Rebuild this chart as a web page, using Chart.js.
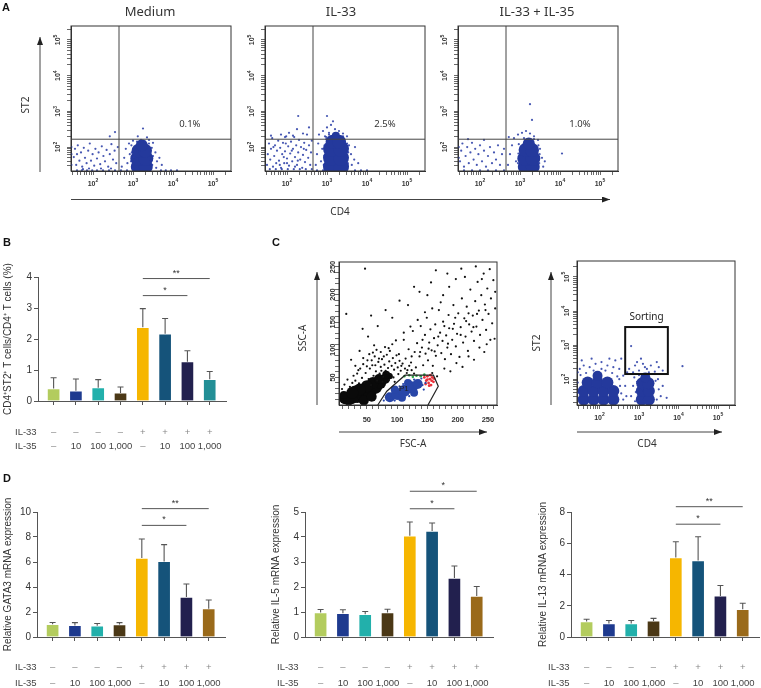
<!DOCTYPE html>
<html lang="en">
<head>
<meta charset="UTF-8">
<title>IL-35 and IL-33 induced CD4+ST2+ T cells</title>
<script src="https://cdn.jsdelivr.net/npm/chart.js"></script>
<style>
  body { margin: 0; background: #fff; }
  #fig { position: relative; width: 761px; height: 688px; overflow: hidden; }
  #fig canvas { position: absolute; }
  #fig svg { position: absolute; left: 0; top: 0; pointer-events: none; }
</style>
</head>
<body>
<div id="fig">
  <canvas id="a1" width="200" height="200" style="left:40px;top:0"></canvas>
  <canvas id="a2" width="200" height="200" style="left:234px;top:0"></canvas>
  <canvas id="a3" width="200" height="200" style="left:427px;top:0"></canvas>
  <canvas id="b" width="235" height="205" style="left:0;top:250px"></canvas>
  <canvas id="c1" width="205" height="190" style="left:300px;top:240px"></canvas>
  <canvas id="c2" width="190" height="190" style="left:555px;top:240px"></canvas>
  <canvas id="d1" width="235" height="206" style="left:0;top:482px"></canvas>
  <canvas id="d2" width="240" height="206" style="left:262px;top:482px"></canvas>
  <canvas id="d3" width="236" height="206" style="left:525px;top:482px"></canvas>

  <svg width="761" height="688">
    <defs>
      <marker id="ah" viewBox="0 0 8 6" refX="8" refY="3" markerWidth="8" markerHeight="6"
              orient="auto" markerUnits="userSpaceOnUse">
        <path d="M0,0L8,3L0,6Z" fill="#222"/>
      </marker>
    </defs>
    <g font-family="'Liberation Sans', Arial, sans-serif" font-weight="bold" font-size="11" fill="#111">
      <text x="2" y="11">A</text>
      <text x="3" y="246">B</text>
      <text x="272" y="246">C</text>
      <text x="3" y="482">D</text>
    </g>
    <g font-family="'Noto Sans', sans-serif" font-size="13" fill="#333" text-anchor="middle">
      <text x="150" y="15.5">Medium</text>
      <text x="341" y="15.5">IL-33</text>
      <text x="537" y="15.5">IL-33 + IL-35</text>
    </g>
    <g stroke="#444" stroke-width="1" marker-end="url(#ah)">
      <line x1="40" y1="172" x2="40" y2="37"/>
      <line x1="71" y1="199.5" x2="610" y2="199.5"/>
      <line x1="317" y1="405" x2="317" y2="272"/>
      <line x1="339" y1="432" x2="487" y2="432"/>
      <line x1="551" y1="405" x2="551" y2="272"/>
      <line x1="577" y1="432" x2="722" y2="432"/>
    </g>
    <g font-family="'Noto Sans', sans-serif" font-size="10" fill="#333" text-anchor="middle" dominant-baseline="central">
      <text transform="translate(25,105) rotate(-90)">ST2</text>
      <text x="340" y="211">CD4</text>
      <text transform="translate(302,338) rotate(-90)">SSC-A</text>
      <text x="413" y="443">FSC-A</text>
      <text transform="translate(536,343) rotate(-90)">ST2</text>
      <text x="647" y="443">CD4</text>
    </g>
  </svg>
</div>

<script>
Chart.defaults.animation = false;
Chart.defaults.font.family = '"Liberation Sans", Arial, sans-serif';
Chart.defaults.color = '#333';
Chart.defaults.plugins.legend.display = false;
Chart.defaults.plugins.tooltip.enabled = false;

// ---------- flow plots: [log10 CD4, log10 ST2, optional radius] ----------
const GATE_A = [2.65, 2.22];
const TICK_EXP = [2, 3, 4, 5];
const FSC_TICKS = [50, 100, 150, 200, 250];

const MED_CORE = [[3.12,1.45,7],[3.32,1.45,7],[3.12,1.68,7.5],[3.32,1.68,7.5],[3.14,1.9,7],[3.3,1.9,7],[3.22,2.05,6]];
const MED_DOTS = [
  [1.52,1.72],[1.55,1.95],[1.58,1.5],[1.62,2.05],[1.66,1.62],[1.7,1.85],[1.73,1.45],[1.77,1.98],
  [1.8,1.7],[1.84,1.55],[1.88,1.9],[1.92,2.1],[1.95,1.62],[1.99,1.8],[2.03,1.48],[2.06,1.95],
  [2.1,1.68],[2.14,1.85],[2.18,1.52],[2.22,2.02],[2.26,1.75],[2.3,1.6],[2.34,1.92],[2.38,1.45],
  [2.42,1.8],[2.46,2.08],[2.5,1.65],[2.54,1.9],[2.58,1.55],[2.62,2.0],[1.6,1.8],[1.9,1.4],
  [2.2,1.4],[2.45,1.4],[1.75,1.38],
  [2.42,2.3],[2.55,2.42],[3.25,2.52],[3.12,2.3],[3.35,2.27],
  [2.72,1.45],[2.78,1.7],[2.82,1.95],[2.86,1.55],[2.9,2.1],[2.92,1.8],[3.0,2.18],[3.4,2.2],
  [3.5,2.12],[3.56,1.85],[3.6,1.6],[3.58,1.42],[3.66,1.7],[3.72,1.5],
  [2.95,1.6],[2.97,1.85],[2.96,2.05],[3.0,1.4],[3.48,1.5],[3.5,1.75],[3.47,1.98],[3.1,2.15],
  [3.3,2.15],[3.2,2.2],[3.4,2.1],[3.02,1.72],[3.45,1.62],
  [1.6,1.35],[1.72,1.35],[1.85,1.35],[1.98,1.35],[2.1,1.35],[2.25,1.35],[2.4,1.35],[2.55,1.35],
  [2.7,1.35],[2.85,1.35],[3.7,1.35],[3.82,1.35],[3.95,1.35],[4.1,1.35],
  [1.46,1.5],[1.46,1.8],[1.46,2.0]
];

const IL33_CORE = [
  [3.1,1.45,8],[3.35,1.45,8],[3.1,1.7,8],[3.35,1.7,8],[3.1,1.95,8],[3.35,1.95,8],
  [3.14,2.15,7],[3.3,2.15,7],[3.22,2.32,4]
];
const IL33_DOTS = [
  [1.5,1.5],[1.52,1.8],[1.55,2.1],[1.58,1.65],[1.6,1.95],[1.63,2.25],[1.65,1.45],[1.68,1.75],
  [1.7,2.05],[1.73,1.55],[1.75,1.9],[1.78,2.18],[1.8,1.62],[1.83,1.98],[1.85,1.42],[1.88,1.8],
  [1.9,2.12],[1.93,1.55],[1.95,1.88],[1.98,2.3],[2.0,1.68],[2.03,2.02],[2.05,1.48],[2.08,1.82],
  [2.1,2.15],[2.13,1.6],[2.15,1.95],[2.18,2.28],[2.2,1.72],[2.23,2.05],[2.25,1.5],[2.28,1.85],
  [2.3,2.2],[2.33,1.65],[2.35,2.0],[2.38,1.42],[2.4,1.78],[2.43,2.12],[2.45,1.58],[2.48,1.92],
  [2.5,2.35],[2.53,1.7],[2.55,2.05],[2.58,1.5],[2.6,1.85],[2.62,2.18],[1.57,1.38],[1.72,1.38],
  [1.87,1.38],[2.02,1.38],[2.17,1.38],[2.32,1.38],[2.47,1.38],[2.62,1.38],[1.66,2.0],[1.92,1.72],
  [2.12,1.9],[2.27,1.62],[2.42,1.95],[1.82,1.5],[2.0,1.55],[2.2,1.45],[1.97,2.1],
  [1.6,2.32],[1.85,2.35],[2.05,2.4],[2.25,2.5],[2.4,2.38],[2.55,2.55],[2.28,2.87],[1.95,2.28],[2.15,2.32],
  [2.72,1.5],[2.75,1.8],[2.78,2.1],[2.8,2.35],[2.85,1.6],[2.88,1.95],[2.9,2.45],[2.95,2.3],
  [3.0,2.55],[3.05,2.4],[3.1,2.62],[3.2,2.5],[3.3,2.45],[3.4,2.38],[3.5,2.3],[3.55,2.05],
  [3.6,1.8],[3.62,1.5],[3.68,1.65],[3.7,2.0],[3.78,1.55],[3.0,2.87],[3.15,2.72],[3.45,2.15],[2.98,2.22],
  [2.92,1.5],[2.93,1.75],[2.94,2.05],[2.98,2.28],[3.52,1.55],[3.53,1.85],[3.5,2.1],[3.4,2.3],
  [3.05,2.35],[3.28,2.38],
  [2.75,1.35],[2.9,1.35],[3.7,1.35],[3.85,1.35],[4.0,1.35]
];

const MIX_CORE = [[3.12,1.45,7],[3.32,1.45,7],[3.12,1.68,7.5],[3.32,1.68,7.5],[3.14,1.92,7],[3.3,1.92,7],[3.22,2.1,6]];
const MIX_DOTS = [
  [1.5,1.6],[1.53,1.9],[1.56,2.1],[1.6,1.45],[1.64,1.75],[1.68,2.0],[1.72,1.55],[1.76,1.85],
  [1.8,2.12],[1.84,1.65],[1.88,1.95],[1.92,1.5],[1.96,1.8],[2.0,2.05],[2.05,1.6],[2.1,1.9],
  [2.15,1.45],[2.2,1.75],[2.25,2.0],[2.3,1.55],[2.35,1.85],[2.4,1.65],[2.45,2.05],[2.5,1.5],
  [2.55,1.8],[2.6,1.95],[1.7,2.22],[2.1,2.2],[1.47,1.7],[1.47,2.0],
  [1.6,1.35],[1.8,1.35],[2.0,1.35],[2.2,1.35],[2.4,1.35],[2.6,1.35],
  [2.7,1.5],[2.75,1.8],[2.8,2.05],[2.85,2.25],[2.9,1.6],[2.95,2.35],[3.05,2.4],[3.15,2.45],
  [3.25,2.38],[3.35,2.3],[3.45,2.2],[3.5,1.95],[3.55,1.7],[3.58,1.45],[3.25,3.2],[3.3,2.76],
  [4.05,1.82],[3.62,1.6],[2.72,2.28],
  [2.95,1.55],[2.96,1.82],[2.97,2.08],[3.48,1.55],[3.49,1.8],[3.46,2.05],[3.1,2.25],[3.35,2.22]
];

// sorting plot (panel C, right)
const SORT_BOX = [2.65, 3.73, 2.15, 3.53];
const SORT_CORE = [
  [1.6,1.4,6],[1.85,1.4,6],[2.1,1.4,6],[2.35,1.4,6],
  [1.6,1.65,6],[1.85,1.65,6],[2.1,1.65,6],[2.35,1.65,6],
  [1.7,1.9,6],[1.95,1.9,6],[2.2,1.9,6],[1.95,2.1,5],
  [3.07,1.4,6],[3.25,1.4,6],[3.07,1.65,6],[3.25,1.65,6],[3.08,1.88,6],[3.24,1.88,6],[3.16,2.05,5]
];
const SORT_DOTS = [
  [1.5,2.3],[1.6,2.4],[1.75,2.35],[1.9,2.45],[2.05,2.5],[2.2,2.4],[2.35,2.35],[2.5,2.3],
  [2.6,2.1],[2.65,1.8],[2.68,1.5],[2.55,2.6],[2.4,2.55],[1.85,2.25],[1.45,1.6],[1.45,1.9],
  [1.45,2.2],[2.15,2.25],[2.5,2.0],[2.6,1.4],[1.55,2.55],[2.7,2.2],[2.25,2.6],[1.8,2.6],
  [1.52,2.12],[1.66,2.18],[2.32,2.18],[2.45,2.08],[2.52,1.8],[2.55,1.58],[1.48,1.45],[2.05,2.3],
  [2.8,1.5],[2.85,1.8],[2.88,2.05],[2.9,1.35],[3.45,1.4],[3.5,1.7],[3.48,2.0],[3.55,1.5],
  [3.6,1.8],[3.7,1.45],[3.35,2.15],[2.92,1.62],[2.95,1.92],[3.42,1.95],[3.0,2.12],
  [2.75,2.3],[2.9,2.4],[3.0,2.25],[3.1,2.45],[3.2,2.3],[3.3,2.4],[3.4,2.22],[3.5,2.35],
  [3.6,2.25],[3.05,2.6],[2.85,2.2],[3.25,2.2],[3.45,2.5],[2.8,2.97],[4.1,2.38],[3.15,2.35],[2.95,2.5]
];

// FSC-A / SSC-A plot (panel C, left): [FSC, SSC, optional radius]
const P1_GATE = [[68,0],[83,25],[113,54],[160,54],[168,34],[151,0]];
const FSC_CORE = [
  [14,12,6],[24,14,7],[34,18,8],[44,22,8],[54,27,8],[64,33,7],[72,40,6],[80,47,5],
  [20,8,5],[45,8,5],[30,26,5],[12,18,4],[58,15,5],[88,52,3],
  [60,40,6],[50,34,6],[38,28,6],[26,22,6],[70,47,5],[82,55,4]
];
const FSC_DOTS = [
  [31,44],[34,57],[37,39],[39,66],[42,49],[44,74],[46,41],[48,58],[51,81],[53,47],[55,66],[57,36],
  [59,72],[61,53],[63,88],[65,61],[67,44],[69,78],[71,57],[73,69],[75,83],[77,51],[79,73],[81,62],
  [83,91],[85,67],[87,79],[89,56],[91,71],[93,85],[95,64],[97,76],[99,90],[101,68],[104,80],[106,62],
  [109,75],[113,66],[116,58],[120,71],[124,63],[128,57],[26,40],[22,33],[18,46],[13,37],[9,29],[28,53],
  [36,63],[50,70],[60,95],[78,88],[66,100],[54,92],[44,85],[88,98],[92,110],[80,105],[70,84],[58,81],
  [64,72],[74,62],[84,58],[94,50],[102,56],[86,45],[96,42],[76,42],
  [103,92],[107,71],[111,118],[114,84],[117,63],[119,101],[123,77],[126,134],[129,96],[131,68],
  [133,112],[137,88],[139,143],[141,104],[143,72],[146,127],[147,93],[149,158],[151,81],[153,113],
  [155,137],[157,99],[159,71],[161,121],[163,146],[164,89],[167,108],[169,172],[171,131],[173,94],
  [175,116],[176,151],[179,83],[181,126],[183,104],[185,163],[186,139],[189,92],[191,118],[193,181],
  [194,147],[197,106],[199,129],[201,166],[203,87],[205,141],[207,193],[209,113],[211,157],[213,124],
  [215,178],[217,98],[219,146],[221,209],[223,133],[225,162],[227,116],[229,188],[231,142],[233,223],
  [235,171],[237,127],[239,199],[241,154],[243,238],[245,182],[247,136],[249,211],[251,165],[253,246],
  [255,193],[257,148],[259,226],[254,118],[236,104],[218,88],[198,76],[178,66],[158,58],[244,96],
  [227,82],[208,69],[188,61],[166,52],[172,186],[158,175],[146,168],[134,154],[122,142],[111,131],
  [98,117],[86,103],[73,96],[62,108],[52,124],[43,138],[68,143],[92,158],[118,181],[137,205],
  [156,222],[183,238],[206,247],[230,251],[164,244],[128,214],[104,189],[81,172],[57,162],[47,247],
  [16,165],[38,98],[24,82],[31,71],[186,214],[197,228],[212,232],[176,199],[150,199],[240,228],
  [262,205],[262,175],[248,110],[261,120],[142,118],[168,124],[192,138],[214,152],[184,111],[162,97],
  [205,127],[226,141],[178,143],[196,158],[152,102],[138,96],[124,88],[232,165],[246,172],[218,166]
];
const P1_CORE = [
  [88,14,5],[100,20,6],[112,26,6],[124,32,6],[134,38,5],[96,28,4],[118,40,4],[108,13,4],[128,22,4]
];
const P1_DOTS = [
  [78,8],[82,14],[86,20],[90,10],[95,30],[104,34],[110,38],[116,44],[128,46],[136,44],[142,36],
  [144,28],[130,22],[120,16],[108,10],[96,8],[140,48],[147,40]
];
const P1_GREEN = [[112,52],[120,54],[126,51],[132,53],[139,52],[145,55]];
const P1_RED = [
  [145,50],[148,44],[150,52],[152,40],[154,47],[156,36],[158,50],[160,42],[147,38],[155,54],
  [161,48],[150,46],[157,44],[153,35]
];

// ---------- bar panels ----------
const IL33_ROW = ['–', '–', '–', '–', '+', '+', '+', '+'];
const IL35_ROW = ['–', '10', '100', '1,000', '–', '10', '100', '1,000'];
const ROW_NAMES = ['IL-33', 'IL-35'];

const B_MEAN = [0.40, 0.33, 0.43, 0.26, 2.38, 2.17, 1.27, 0.70];
const B_SD   = [0.35, 0.38, 0.26, 0.19, 0.60, 0.49, 0.35, 0.25];
const GATA3_MEAN = [1.02, 0.93, 0.90, 1.00, 6.32, 6.05, 3.20, 2.27];
const GATA3_SD   = [0.14, 0.22, 0.18, 0.15, 1.52, 1.34, 1.04, 0.69];
const IL5_MEAN = [0.98, 0.95, 0.91, 0.98, 4.05, 4.24, 2.36, 1.64];
const IL5_SD   = [0.12, 0.14, 0.11, 0.13, 0.55, 0.32, 0.48, 0.38];
const IL13_MEAN = [0.99, 0.86, 0.86, 1.03, 5.09, 4.89, 2.63, 1.77];
const IL13_SD   = [0.15, 0.20, 0.20, 0.16, 1.01, 1.53, 0.67, 0.39];

const COLORS_B = ['#b3cc5e', '#1e3a8f', '#22b0ab', '#4b3816', '#f6b600', '#15537a', '#22204e', '#238f96'];
const COLORS_D = ['#b3cc5e', '#1e3a8f', '#22b0ab', '#4b3816', '#f6b600', '#15537a', '#22204e', '#9a6a1a'];

// significance bars: from bar, to bar, height in data units, label
const B_SIG = [[4, 7, 3.95, '**'], [4, 6, 3.40, '*']];
const GATA3_SIG = [[4, 7, 10.27, '**'], [4, 6, 8.93, '*']];
const IL5_SIG = [[4, 7, 5.83, '*'], [4, 6, 5.13, '*']];
const IL13_SIG = [[4, 7, 8.34, '**'], [4, 6, 7.22, '*']];

// ---------- helpers ----------
function logTicks(scale) {
  const out = [];
  for (let e = 1; e <= 5; e++) {
    for (let m = 1; m <= 9; m++) {
      const v = m * Math.pow(10, e);
      if (v >= scale.min && v <= scale.max) out.push({ value: v });
    }
  }
  scale.ticks = out;
}

function linTicks(scale) {
  const out = [];
  for (let v = 10; v <= scale.max; v += 10) out.push({ value: v });
  scale.ticks = out;
}

function drawPow(ctx, x, y, exp, rotate) {
  ctx.save();
  ctx.translate(x, y);
  if (rotate) ctx.rotate(-Math.PI / 2);
  ctx.fillStyle = '#333';
  ctx.textBaseline = 'middle';
  ctx.textAlign = 'left';
  ctx.font = 'bold 7px "Liberation Sans"';
  const w1 = ctx.measureText('10').width;
  ctx.font = 'bold 5px "Liberation Sans"';
  const w2 = ctx.measureText(String(exp)).width;
  const x0 = -(w1 + w2) / 2;
  ctx.font = 'bold 7px "Liberation Sans"';
  ctx.fillText('10', x0, 0);
  ctx.font = 'bold 5px "Liberation Sans"';
  ctx.fillText(String(exp), x0 + w1, -3);
  ctx.restore();
}

function drawCyto(chart, o) {
  const { ctx, chartArea: a, scales: { x, y } } = chart;
  const px = v => x.getPixelForValue(o.log ? Math.pow(10, v) : v);
  const py = v => y.getPixelForValue(o.log ? Math.pow(10, v) : v);
  ctx.save();
  ctx.strokeStyle = '#333';
  ctx.lineWidth = 1;
  ctx.strokeRect(a.left, a.top, a.right - a.left, a.bottom - a.top);

  if (o.gate) {
    ctx.strokeStyle = '#444';
    ctx.beginPath();
    ctx.moveTo(px(o.gate[0]), a.top); ctx.lineTo(px(o.gate[0]), a.bottom);
    ctx.moveTo(a.left, py(o.gate[1])); ctx.lineTo(a.right, py(o.gate[1]));
    ctx.stroke();
  }
  if (o.pct) {
    ctx.fillStyle = '#333';
    ctx.font = '9.5px "Noto Sans"';
    ctx.textAlign = 'center';
    ctx.textBaseline = 'middle';
    ctx.fillText(o.pct[0], px(o.pct[1]), py(o.pct[2]));
  }
  if (o.box) {
    const [x0, x1, y0, y1] = o.box;
    ctx.strokeStyle = '#111';
    ctx.lineWidth = 2;
    ctx.strokeRect(px(x0), py(y1), px(x1) - px(x0), py(y0) - py(y1));
    ctx.fillStyle = '#222';
    ctx.font = '10px "Noto Sans"';
    ctx.textAlign = 'center';
    ctx.textBaseline = 'alphabetic';
    ctx.fillText('Sorting', (px(x0) + px(x1)) / 2, py(y1) - 7);
  }
  if (o.poly) {
    ctx.strokeStyle = '#222';
    ctx.lineWidth = 1.2;
    ctx.beginPath();
    o.poly.forEach((p, i) => (i ? ctx.lineTo(px(p[0]), py(p[1])) : ctx.moveTo(px(p[0]), py(p[1]))));
    ctx.stroke();
    ctx.fillStyle = '#222';
    ctx.font = '8px "Liberation Sans"';
    ctx.textAlign = 'center';
    ctx.textBaseline = 'middle';
    ctx.fillText('P1', px(111), py(29));
  }

  // tick labels
  if (o.log) {
    TICK_EXP.forEach(e => {
      drawPow(ctx, px(e), a.bottom + o.lbl[0], e, false);
      drawPow(ctx, a.left - o.lbl[1], py(e), e, true);
    });
  } else {
    ctx.fillStyle = '#333';
    ctx.font = 'bold 7.5px "Liberation Sans"';
    ctx.textAlign = 'center';
    ctx.textBaseline = 'middle';
    FSC_TICKS.forEach(v => {
      ctx.fillText(String(v), px(v), a.bottom + o.lbl[0]);
      ctx.save();
      ctx.translate(a.left - o.lbl[1], py(v));
      ctx.rotate(-Math.PI / 2);
      ctx.fillText(String(v), 0, 0);
      ctx.restore();
    });
  }
  ctx.restore();
}

function cytoChart(id, o) {
  const conv = o.log ? p => ({ x: Math.pow(10, p[0]), y: Math.pow(10, p[1]) }) : p => ({ x: p[0], y: p[1] });
  const datasets = o.sets.map(s => ({
    data: s.pts.map(conv),
    backgroundColor: s.color,
    borderWidth: 0,
    pointRadius: s.pts.map(p => p[2] || s.r),
    pointHoverRadius: s.pts.map(p => p[2] || s.r)
  }));
  const axis = (range, key) => ({
    type: o.log ? 'logarithmic' : 'linear',
    min: o.log ? Math.pow(10, range[0]) : range[0],
    max: o.log ? Math.pow(10, range[1]) : range[1],
    ticks: { display: false },
    grid: { drawOnChartArea: false, tickLength: 4, tickColor: '#444', tickWidth: 0.8 },
    border: { color: '#333' },
    afterBuildTicks: o.log ? logTicks : linTicks,
    afterFit: s => { if (key === 'x') s.height = o.xHeight; else s.width = o.yWidth; }
  });
  new Chart(document.getElementById(id), {
    type: 'scatter',
    data: { datasets },
    options: {
      responsive: false,
      layout: { padding: { top: o.padTop, right: o.padRight, bottom: 0, left: 0 } },
      scales: { x: axis(o.xRange, 'x'), y: axis(o.yRange, 'y') }
    },
    plugins: [{ id: 'cyto', afterDraw: c => drawCyto(c, o) }]
  });
}

function drawBarExtras(chart, o) {
  const { ctx, scales: { x, y } } = chart;
  ctx.save();
  // error bars (upper only)
  ctx.strokeStyle = '#555';
  ctx.lineWidth = 1.1;
  o.mean.forEach((m, i) => {
    const cx = x.getPixelForValue(i);
    const y0 = y.getPixelForValue(m);
    const y1 = y.getPixelForValue(m + o.sd[i]);
    ctx.beginPath();
    ctx.moveTo(cx, y0); ctx.lineTo(cx, y1);
    ctx.moveTo(cx - 3, y1); ctx.lineTo(cx + 3, y1);
    ctx.stroke();
  });
  // significance lines
  ctx.strokeStyle = '#555';
  ctx.lineWidth = 1;
  ctx.fillStyle = '#333';
  ctx.font = '9px "Liberation Sans"';
  ctx.textAlign = 'center';
  ctx.textBaseline = 'alphabetic';
  o.sig.forEach(([a, b, h, t]) => {
    const xa = x.getPixelForValue(a), xb = x.getPixelForValue(b), yy = y.getPixelForValue(h);
    ctx.beginPath();
    ctx.moveTo(xa, yy); ctx.lineTo(xb, yy);
    ctx.stroke();
    ctx.fillText(t, (xa + xb) / 2, yy - 3);
  });
  // treatment rows under the axis
  ctx.font = '9.5px "Liberation Sans"';
  ctx.textBaseline = 'middle';
  [IL33_ROW, IL35_ROW].forEach((row, r) => {
    ctx.textAlign = 'left';
    ctx.fillStyle = '#444';
    ctx.fillText(ROW_NAMES[r], o.rowX, o.rowY[r]);
    ctx.textAlign = 'center';
    row.forEach((t, i) => {
      ctx.fillStyle = (t === '–' || t === '+') ? '#888' : '#444';
      ctx.fillText(t, x.getPixelForValue(i), o.rowY[r]);
    });
  });
  ctx.restore();
}

function barChart(id, o) {
  new Chart(document.getElementById(id), {
    type: 'bar',
    data: {
      datasets: [{
        data: o.mean.map((v, i) => ({ x: i, y: v })),
        backgroundColor: o.colors,
        borderColor: 'rgba(255,255,255,0.35)',
        borderWidth: 1,
        barThickness: 13
      }]
    },
    options: {
      responsive: false,
      layout: { padding: { top: o.padTop, right: o.padRight, left: o.padLeft, bottom: 0 } },
      scales: {
        x: {
          type: 'linear', min: -0.7, max: 7.73, offset: false,
          grid: { offset: false, drawOnChartArea: false, tickLength: 4, tickColor: '#555' },
          border: { color: '#555' },
          ticks: { display: false },
          afterBuildTicks: s => { s.ticks = IL35_ROW.map((_, i) => ({ value: i })); },
          afterFit: s => { s.height = o.xHeight; }
        },
        y: {
          min: 0, max: o.max,
          ticks: { stepSize: o.step, color: '#333', font: { size: 10 }, padding: 2 },
          grid: { drawOnChartArea: false, tickLength: 4, tickColor: '#555' },
          border: { color: '#555' },
          title: { display: true, text: o.title, color: '#333', font: { size: 10 }, padding: 0 },
          afterFit: s => { s.width = o.yWidth; }
        }
      }
    },
    plugins: [{ id: 'barExtras', afterDraw: c => drawBarExtras(c, o) }]
  });
}

// ---------- panel A ----------
const BLUE_CORE = '#24399c';
const BLUE_DOT = 'rgba(38,58,165,0.85)';
const flowA = {
  log: true, xRange: [1.45, 5.45], yRange: [1.33, 5.39],
  yWidth: 31, xHeight: 29, padTop: 26, padRight: 9, lbl: [13, 12.5], gate: GATE_A
};
cytoChart('a1', Object.assign({}, flowA, {
  pct: ['0.1%', 4.42, 2.65],
  sets: [{ pts: MED_DOTS, color: BLUE_DOT, r: 1.1 }, { pts: MED_CORE, color: BLUE_CORE, r: 1 }]
}));
cytoChart('a2', Object.assign({}, flowA, {
  pct: ['2.5%', 4.45, 2.65],
  sets: [{ pts: IL33_DOTS, color: BLUE_DOT, r: 1.1 }, { pts: IL33_CORE, color: BLUE_CORE, r: 1 }]
}));
cytoChart('a3', Object.assign({}, flowA, {
  pct: ['1.0%', 4.5, 2.65],
  sets: [{ pts: MIX_DOTS, color: BLUE_DOT, r: 1.1 }, { pts: MIX_CORE, color: BLUE_CORE, r: 1 }]
}));

// ---------- panel B ----------
barChart('b', {
  mean: B_MEAN, sd: B_SD, colors: COLORS_B, max: 4, step: 1, sig: B_SIG,
  title: 'CD4⁺ST2⁺ T cells/CD4⁺ T cells (%)',
  padLeft: 2, yWidth: 36, padTop: 27, padRight: 9, xHeight: 54, rowX: 15, rowY: [182, 196]
});

// ---------- panel C ----------
cytoChart('c1', {
  log: false, xRange: [4, 265], yRange: [0, 259],
  yWidth: 39, xHeight: 25, padTop: 22, padRight: 7, lbl: [14.5, 6], poly: P1_GATE,
  sets: [
    { pts: FSC_DOTS, color: '#111', r: 1.1 },
    { pts: FSC_CORE, color: '#0a0a0a', r: 1 },
    { pts: P1_CORE, color: '#2846a8', r: 1 },
    { pts: P1_DOTS, color: '#2846a8', r: 1.1 },
    { pts: P1_GREEN, color: '#2fa84a', r: 1.3 },
    { pts: P1_RED, color: '#e8313a', r: 1.4 }
  ]
});
cytoChart('c2', {
  log: true, xRange: [1.43, 5.43], yRange: [1.24, 5.47],
  yWidth: 22, xHeight: 25, padTop: 21, padRight: 10, lbl: [13, 10], box: SORT_BOX,
  sets: [{ pts: SORT_DOTS, color: BLUE_DOT, r: 1.1 }, { pts: SORT_CORE, color: BLUE_CORE, r: 1 }]
});

// ---------- panel D ----------
barChart('d1', {
  mean: GATA3_MEAN, sd: GATA3_SD, colors: COLORS_D, max: 10, step: 2, sig: GATA3_SIG,
  title: 'Relative GATA3 mRNA expression',
  padLeft: 2, yWidth: 35, padTop: 30, padRight: 10, xHeight: 51, rowX: 15, rowY: [185, 201]
});
barChart('d2', {
  mean: IL5_MEAN, sd: IL5_SD, colors: COLORS_D, max: 5, step: 1, sig: IL5_SIG,
  title: 'Relative IL-5 mRNA expression',
  padLeft: 8, yWidth: 35, padTop: 30, padRight: 9, xHeight: 51, rowX: 15, rowY: [185, 201]
});
barChart('d3', {
  mean: IL13_MEAN, sd: IL13_SD, colors: COLORS_D, max: 8, step: 2, sig: IL13_SIG,
  title: 'Relative IL-13 mRNA expression',
  padLeft: 12, yWidth: 34, padTop: 30, padRight: 2, xHeight: 51, rowX: 23, rowY: [185, 201]
});
</script>
</body>
</html>
